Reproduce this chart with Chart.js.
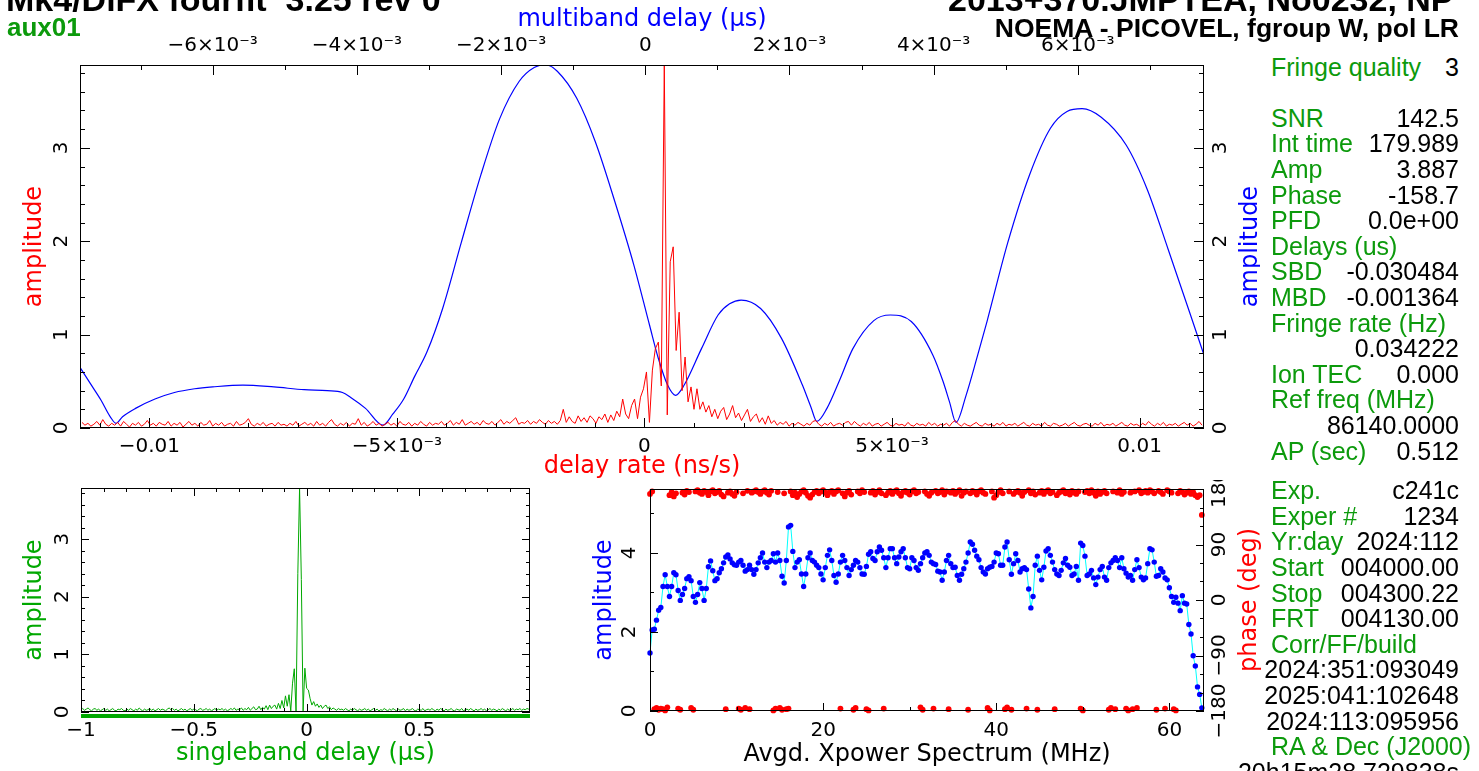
<!DOCTYPE html>
<html><head><meta charset="utf-8">
<script src="https://cdn.jsdelivr.net/npm/chart.js@4.4.1/dist/chart.umd.min.js"></script>
<style>
html,body{margin:0;padding:0;background:#fff;}
body{width:1479px;height:771px;overflow:hidden;position:relative;}
canvas{position:absolute;}
#c1{left:0;top:0;}
#c2{left:0;top:480px;}
#c3{left:580px;top:480px;}
.t{position:absolute;white-space:pre;font-family:"Liberation Sans",Arial,sans-serif;}
.b{font-weight:bold;}
.lab{left:1271px;color:#0c9a0c;font-size:25px;line-height:25.6px;}
.val{right:20px;color:#000;font-size:25px;line-height:25.6px;text-align:right;}
</style></head><body>
<canvas id="c1" width="1260" height="480"></canvas>
<canvas id="c2" width="560" height="291"></canvas>
<canvas id="c3" width="700" height="291"></canvas>
<script>
// ---------------- DATA ----------------
const AMP_MAX = 3.887;
const SPEC_AMP_MAX = 5.62;

// multiband delay function (top axis, us) - blue
const mbdDelay = [-0.00784,-0.00770,-0.00755,-0.00742,-0.00734,-0.00725,-0.00707,-0.00680,-0.00653,-0.00625,-0.00600,-0.00558,-0.00515,-0.00473,-0.00441,-0.00420,-0.00409,-0.00388,-0.00364,-0.00350,-0.00335,-0.00320,-0.00303,-0.00281,-0.00255,-0.00228,-0.00202,-0.00175,-0.00154,-0.00137,-0.00122,-0.00095,-0.00069,-0.00042,-0.00016,0.00006,0.00018,0.00031,0.00042,0.00054,0.00078,0.00101,0.00117,0.00133,0.00160,0.00189,0.00218,0.00230,0.00238,0.00252,0.00270,0.00288,0.00317,0.00340,0.00369,0.00399,0.00413,0.00422,0.00431,0.00445,0.00460,0.00474,0.00503,0.00533,0.00562,0.00585,0.00606,0.00632,0.00667,0.00696,0.00725,0.00755,0.00775];
const mbdAmp = [0.65,0.48,0.30,0.12,0.05,0.12,0.21,0.31,0.38,0.42,0.44,0.46,0.44,0.41,0.40,0.38,0.33,0.21,0.03,0.15,0.31,0.55,0.81,1.28,1.99,2.71,3.31,3.71,3.86,3.887,3.82,3.53,3.06,2.42,1.75,1.10,0.75,0.46,0.35,0.46,0.85,1.21,1.33,1.37,1.28,0.96,0.46,0.22,0.07,0.21,0.52,0.85,1.15,1.21,1.14,0.78,0.50,0.28,0.06,0.35,0.75,1.14,1.99,2.71,3.21,3.39,3.42,3.33,3.03,2.56,1.92,1.24,0.78];

// delay-rate spectrum (bottom axis, ns/s) - red, sampled on a regular grid
const rateStart = -0.01136, rateStep = 0.00006;
const rateAmp = [
0.06,0.03,0.05,0.02,0.04,0.07,0.03,0.09,0.04,0.02,
0.05,0.03,0.06,0.02,0.07,0.04,0.01,0.05,0.03,0.06,
0.02,0.04,0.08,0.03,0.05,0.02,0.06,0.04,0.03,0.07,
0.02,0.05,0.03,0.06,0.01,0.04,0.07,0.03,0.05,0.02,
0.06,0.03,0.04,0.08,0.02,0.05,0.03,0.06,0.02,0.04,
0.05,0.02,0.07,0.03,0.04,0.06,0.10,0.04,0.02,0.05,
0.03,0.06,0.02,0.04,0.05,0.02,0.06,0.03,0.04,0.02,
0.05,0.03,0.07,0.02,0.04,0.06,0.03,0.05,0.02,0.07,
0.03,0.05,0.02,0.06,0.09,0.04,0.02,0.05,0.03,0.06,
0.02,0.05,0.04,0.10,0.03,0.06,0.02,0.04,0.07,0.03,
0.05,0.02,0.04,0.06,0.03,0.05,0.02,0.07,0.04,0.03,
0.06,0.02,0.05,0.03,0.07,0.04,0.02,0.06,0.03,0.05,
0.04,0.07,0.03,0.05,0.08,0.03,0.06,0.04,0.09,0.03,
0.05,0.07,0.04,0.06,0.03,0.08,0.05,0.04,0.07,0.03,
0.06,0.09,0.04,0.07,0.05,0.08,0.11,0.04,0.06,0.05,
0.08,0.04,0.07,0.05,0.09,0.06,0.04,0.08,0.05,0.07,
0.04,0.08,0.20,0.06,0.12,0.07,0.05,0.13,0.07,0.11,
0.06,0.13,0.10,0.05,0.12,0.09,0.15,0.06,0.14,0.08,
0.18,0.12,0.31,0.15,0.10,0.24,0.31,0.10,0.33,0.42,
0.60,0.06,0.62,0.85,0.92,0.45,3.887,0.14,1.78,1.94,
0.83,1.24,0.40,0.76,0.28,0.44,0.20,0.42,0.20,0.28,
0.17,0.24,0.12,0.20,0.10,0.18,0.22,0.09,0.15,0.24,
0.11,0.16,0.08,0.14,0.20,0.07,0.12,0.15,0.06,0.11,
0.04,0.13,0.05,0.08,0.03,0.06,0.04,0.07,0.02,0.05,
0.03,0.06,0.04,0.02,0.05,0.03,0.07,0.08,0.04,0.02,
0.05,0.03,0.06,0.02,0.04,0.05,0.03,0.06,0.07,0.03,
0.07,0.04,0.02,0.05,0.03,0.06,0.02,0.04,0.05,0.02,
0.04,0.06,0.03,0.02,0.05,0.03,0.04,0.02,0.06,0.03,
0.02,0.05,0.03,0.04,0.02,0.06,0.03,0.05,0.02,0.04,
0.03,0.05,0.02,0.06,0.08,0.04,0.02,0.05,0.03,0.02,
0.04,0.06,0.03,0.02,0.05,0.03,0.04,0.02,0.05,0.03,
0.06,0.02,0.04,0.03,0.05,0.02,0.04,0.06,0.03,0.02,
0.05,0.03,0.04,0.02,0.06,0.03,0.02,0.05,0.04,0.02,
0.03,0.05,0.02,0.04,0.06,0.03,0.02,0.04,0.05,0.03,
0.02,0.05,0.03,0.06,0.02,0.04,0.03,0.05,0.02,0.04,
0.06,0.03,0.02,0.05,0.03,0.04,0.02,0.05,0.03,0.07,
0.04,0.02,0.05,0.03,0.06,0.02,0.04,0.03,0.05,0.02,
0.04,0.06,0.03,0.05,0.02,0.04,0.07,0.03];

// singleband delay function (us) - green, regular grid
const sbdStart = -1, sbdStep = 1/128;
const sbdAmp = [
0.04,0.06,0.03,0.05,0.07,0.04,0.02,0.05,0.06,0.03,
0.05,0.02,0.04,0.06,0.03,0.05,0.02,0.04,0.06,0.03,
0.02,0.05,0.04,0.06,0.03,0.02,0.05,0.03,0.06,0.04,
0.02,0.05,0.03,0.07,0.04,0.02,0.05,0.03,0.04,0.06,
0.03,0.05,0.02,0.04,0.06,0.03,0.05,0.04,0.02,0.05,
0.07,0.04,0.06,0.03,0.05,0.02,0.04,0.06,0.03,0.05,
0.02,0.04,0.06,0.03,0.05,0.04,0.02,0.05,0.06,0.03,
0.04,0.06,0.03,0.05,0.02,0.04,0.06,0.03,0.05,0.04,
0.06,0.03,0.05,0.02,0.04,0.06,0.04,0.07,0.03,0.05,
0.04,0.07,0.03,0.06,0.04,0.08,0.03,0.06,0.09,0.04,
0.05,0.10,0.04,0.08,0.05,0.11,0.04,0.12,0.06,0.10,
0.12,0.05,0.15,0.06,0.20,0.07,0.28,0.10,0.30,0.02,
0.50,0.75,0.00,2.40,3.887,2.30,0.02,0.76,0.41,0.38,
0.23,0.12,0.18,0.10,0.14,0.08,0.12,0.06,0.10,0.12,
0.06,0.09,0.04,0.07,0.05,0.03,0.06,0.04,0.05,0.03,
0.06,0.04,0.02,0.05,0.03,0.06,0.04,0.02,0.05,0.03,
0.04,0.06,0.03,0.05,0.02,0.04,0.06,0.03,0.05,0.02,
0.04,0.03,0.06,0.04,0.02,0.05,0.03,0.06,0.04,0.02,
0.05,0.03,0.04,0.06,0.02,0.05,0.03,0.04,0.06,0.03,
0.02,0.05,0.04,0.03,0.06,0.02,0.04,0.05,0.03,0.06,
0.04,0.02,0.05,0.03,0.06,0.04,0.02,0.05,0.03,0.04,
0.06,0.03,0.02,0.05,0.04,0.03,0.06,0.02,0.04,0.05,
0.03,0.06,0.04,0.02,0.05,0.03,0.04,0.06,0.03,0.05,
0.02,0.04,0.06,0.03,0.05,0.04,0.02,0.05,0.03,0.06,
0.04,0.02,0.05,0.03,0.04,0.06,0.03,0.05,0.04,0.06,
0.03,0.05,0.04,0.06,0.05,0.08];
const sbdWindow = [-1, 0.99];

// averaged cross-power spectrum, 0.25 MHz channels
const specStep = 0.25;
const specAmp = [
1.47,2.05,2.07,2.30,2.55,2.62,3.15,3.45,3.15,2.90,
3.15,3.50,3.45,3.05,2.80,2.95,3.10,3.35,3.40,3.30,
2.90,2.75,2.95,3.25,3.10,2.80,3.10,3.65,3.80,3.55,
3.30,3.35,3.50,3.60,3.75,3.90,3.95,3.85,3.75,3.70,
3.69,3.77,3.81,3.69,3.54,3.58,3.69,3.58,3.46,3.58,
3.75,3.88,4.00,3.77,3.63,3.77,3.81,3.98,3.77,
4.00,3.81,3.41,3.24,3.81,4.66,4.70,4.04,3.63,3.77,
3.83,3.47,3.15,3.47,3.88,4.00,3.81,3.77,3.69,3.63,
3.47,3.32,3.63,3.94,4.08,3.81,3.43,3.26,3.47,
3.77,3.94,3.81,3.63,3.43,3.58,3.69,3.81,3.77,3.63,
3.47,3.46,3.66,3.97,4.03,3.86,3.81,4.03,4.15,4.07,
3.88,3.63,3.88,4.11,4.11,3.88,3.73,3.90,4.03,
4.11,3.88,3.63,3.60,3.88,3.81,3.63,3.56,3.73,3.88,
4.00,4.03,3.94,3.77,3.73,3.71,3.54,3.52,3.31,3.52,
3.81,3.94,3.73,3.63,3.64,3.43,3.31,3.46,3.60,3.77,
4.00,4.28,4.22,4.07,3.92,3.83,3.63,3.52,3.47,3.60,
3.64,3.66,3.77,4.00,3.98,3.69,3.69,4.15,4.28,
3.83,3.46,3.73,3.98,3.81,3.52,3.60,3.63,3.58,3.09,
2.61,2.90,3.69,3.92,3.56,3.32,3.64,4.05,4.11,3.94,
3.77,3.58,3.47,3.43,3.56,3.75,3.86,3.69,3.64,3.43,
3.47,3.66,3.31,4.25,4.19,3.92,3.43,3.47,3.56,
3.37,3.20,3.39,3.58,3.66,3.39,3.31,3.63,3.75,3.81,
3.88,3.81,3.63,3.88,3.60,3.49,3.39,3.43,3.31,3.58,
3.83,3.63,3.39,3.32,3.37,3.73,4.11,4.08,3.77,3.41,
3.43,3.60,3.52,3.37,3.32,3.12,2.90,2.75,2.88,2.73,
2.54,2.92,2.73,2.71,2.19,1.95,1.40,1.14,0.61,
0.42,0.08];
const specPhase = [
172,176,-177,-175,-178,-176,-177,-179,-174,170,
175,168,173,-176,-178,174,171,177,175,-175,
-178,176,178,174,172,177,175,170,176,178,
173,175,177,171,168,-177,174,176,172,169,
175,-176,-178,173,-175,177,-177,174,176,178,
175,172,176,178,174,171,177,-179,-176,175,
-175,-178,173,-177,-176,176,170,174,167,172,
176,178,174,169,166,171,175,177,173,176,
178,174,170,175,177,172,176,178,-176,173,
168,174,177,171,-178,-175,176,173,178,175,
-177,-179,174,177,171,175,178,173,-176,170,
174,177,172,176,178,173,169,175,177,174,
171,176,178,173,175,-174,-178,176,172,169,
174,-176,177,173,175,178,171,176,-177,174,
177,172,175,178,169,174,176,-178,173,177,
175,171,176,178,174,172,-175,-179,176,166,
170,175,178,173,-177,-174,176,-178,172,175,
177,174,169,175,-176,178,173,176,171,-178,
174,177,172,176,178,173,175,-177,170,174,
176,178,173,175,171,177,174,172,176,-176,
-179,175,177,173,178,174,169,176,172,175,
177,173,-178,-175,176,-177,174,178,172,175,
-176,-179,174,-177,176,-175,178,173,175,177,
174,178,176,173,-178,177,175,172,-176,178,
176,174,-177,-179,173,177,175,171,174,176,
172,175,170,167,170,138];

// tick values and labels
const rateTicks = [-0.01,-0.005,0,0.005,0.01];
const rateTickLabels = ['\u22120.01','\u22125\u00d710\u207b\u00b3','0','5\u00d710\u207b\u00b3','0.01'];
const mbdTicks = [-0.006,-0.004,-0.002,0,0.002,0.004,0.006];
const mbdTickLabels = ['\u22126\u00d710\u207b\u00b3','\u22124\u00d710\u207b\u00b3','\u22122\u00d710\u207b\u00b3','0','2\u00d710\u207b\u00b3','4\u00d710\u207b\u00b3','6\u00d710\u207b\u00b3'];
const ampTicks = [0,1,2,3];
const ampTickLabels = ['0','1','2','3'];
const sbdTicks = [-1,-0.5,0,0.5];
const sbdTickLabels = ['\u22121','\u22120.5','0','0.5'];
const specTicks = [0,20,40,60];
const specTickLabels = ['0','20','40','60'];
const specAmpTicks = [0,2,4];
const specAmpTickLabels = ['0','2','4'];
const phaseTicks = [-180,-90,0,90,180];
const phaseTickLabels = ['\u2212180','\u221290','0','90','180'];

// text panel
const panelRows = [
 ['Fringe quality','3'],['SNR','142.5'],['Int time','179.989'],['Amp','3.887'],['Phase','-158.7'],
 ['PFD','0.0e+00'],['Delays (us)',''],['SBD','-0.030484'],['MBD','-0.001364'],['Fringe rate (Hz)',''],
 ['','0.034222'],['Ion TEC','0.000'],['Ref freq (MHz)',''],['','86140.0000'],['AP (sec)','0.512'],
 ['Exp.','c241c'],['Exper #','1234'],['Yr:day','2024:112'],['Start','004000.00'],['Stop','004300.22'],
 ['FRT','004130.00'],['Corr/FF/build',''],['','2024:351:093049'],['','2025:041:102648'],['','2024:113:095956'],
 ['RA & Dec (J2000)',''],['','20h15m28.729838s']
];
const titleLeft = 'Mk4/DiFX fourfit  3.25 rev 0';
const titleRight1 = '2013+370.JMPTEA, No0232, NP';
const titleRight2 = 'NOEMA - PICOVEL, fgroup W, pol LR';
const stationTag = 'aux01';

// ---------------- RENDERING ----------------
const FONT = '"DejaVu Sans ExtraLight", "DejaVu Sans", sans-serif';
const RED = '#ff0000', BLUE = '#0000ff', GREEN = '#00a800', CYAN = '#00ffff', BLACK = '#000000';

function fixedSize(px){ return s => { if (s.isHorizontal()) s.height = px; else s.width = px; }; }
function setTicks(vals){ return s => { s.ticks = vals.map(v => ({value: v})); }; }

function xScale(pos, min, max, ticks, labels, size, tickPad, title, titleColor, titlePad){
  return {
    type:'linear', axis:'x', position:pos, min, max, bounds:'data',
    grid:{display:false}, border:{display:false},
    afterBuildTicks:setTicks(ticks), afterFit:fixedSize(size),
    ticks:{autoSkip:false, maxRotation:0, minRotation:0, padding:tickPad, color:BLACK,
           font:{family:FONT, size:20}, callback:(v,i)=>labels[i]},
    title:{display:!!title, text:title, color:titleColor, font:{family:FONT, size:24, lineHeight:1},
           padding: pos==='top' ? {top:titlePad} : {bottom:titlePad}}
  };
}
function yScale(pos, min, max, ticks, size, title, titleColor, titlePad){
  return {
    type:'linear', axis:'y', position:pos, min, max, bounds:'data',
    grid:{display:false}, border:{display:false},
    afterBuildTicks:setTicks(ticks), afterFit:fixedSize(size),
    ticks:{display:false},
    title:{display:!!title, text:title||'', color:titleColor, font:{family:FONT, size:24, lineHeight:1},
           padding:{top:titlePad||0}}
  };
}

function pgPlugin(conf){
  return {
    id:'pgaxes',
    afterDatasetsDraw(chart){
      const ctx = chart.ctx, a = chart.chartArea;
      ctx.save();
      if (conf.bar){
        const sc = chart.scales[conf.bar.scale];
        ctx.strokeStyle = conf.bar.color; ctx.lineWidth = conf.bar.width;
        ctx.beginPath();
        const y = a.bottom + conf.bar.dy;
        ctx.moveTo(sc.getPixelForValue(conf.bar.from), y);
        ctx.lineTo(sc.getPixelForValue(conf.bar.to), y);
        ctx.stroke();
      }
      ctx.strokeStyle = BLACK; ctx.lineWidth = 1;
      ctx.strokeRect(a.left + 0.5, a.top + 0.5, a.right - a.left - 1, a.bottom - a.top - 1);
      ctx.beginPath();
      for (const s of conf.sides){
        const sc = chart.scales[s.scale];
        const sets = [[sc.ticks.map(t => t.value), s.majorLen]];
        if (s.minor){
          const m = [];
          const k0 = Math.ceil(sc.min / s.minor - 1e-6);
          for (let k = k0; k * s.minor <= sc.max + 1e-9; k++) m.push(k * s.minor);
          sets.push([m, s.minorLen]);
        }
        for (const [vals, len] of sets){
          for (const v of vals){
            const p = Math.round(sc.getPixelForValue(v)) + 0.5;
            if (s.side === 'bottom'){ ctx.moveTo(p, a.bottom); ctx.lineTo(p, a.bottom - len); }
            else if (s.side === 'top'){ ctx.moveTo(p, a.top); ctx.lineTo(p, a.top + len); }
            else if (s.side === 'left'){ ctx.moveTo(a.left, p); ctx.lineTo(a.left + len, p); }
            else { ctx.moveTo(a.right, p); ctx.lineTo(a.right - len, p); }
          }
        }
      }
      ctx.stroke();
      ctx.fillStyle = BLACK; ctx.textAlign = 'center'; ctx.textBaseline = 'middle';
      ctx.font = '20px ' + FONT;
      for (const L of (conf.yLabels || [])){
        const sc = chart.scales[L.scale];
        sc.ticks.forEach((t, i) => {
          const y = sc.getPixelForValue(t.value);
          ctx.save(); ctx.translate(L.x, y); ctx.rotate(-Math.PI/2);
          ctx.fillText(L.labels[i], 0, 0); ctx.restore();
        });
      }
      ctx.font = '24px ' + FONT;
      for (const T of (conf.titles || [])){
        ctx.fillStyle = T.color;
        ctx.save(); ctx.translate(T.x, (a.top + a.bottom) / 2); ctx.rotate(-Math.PI/2);
        ctx.fillText(T.text, 0, 0); ctx.restore();
      }
      ctx.restore();
    }
  };
}

const common = {
  responsive:false, animation:false, events:[], devicePixelRatio:1,
  plugins:{legend:{display:false}, tooltip:{enabled:false}},
  elements:{point:{radius:0}}
};

// ---- main plot
const rateData = rateAmp.map((v, i) => ({x: rateStart + i * rateStep, y: v}));
const mbdData = mbdDelay.map((d, i) => ({x: d, y: mbdAmp[i]}));
new Chart(document.getElementById('c1'), {
  type:'line',
  data:{datasets:[
    {data:rateData, xAxisID:'rate', yAxisID:'amp', borderColor:RED, borderWidth:1, pointRadius:0, tension:0},
    {data:mbdData, xAxisID:'mbd', yAxisID:'amp', borderColor:BLUE, borderWidth:1.2, pointRadius:0, cubicInterpolationMode:'monotone'}
  ]},
  options:Object.assign({}, common, {
    layout:{padding:0},
    scales:{
      rate: xScale('bottom', -0.0114, 0.0113, rateTicks, rateTickLabels, 52, -1, 'delay rate (ns/s)', RED, 1),
      mbd: xScale('top', -0.00784, 0.00775, mbdTicks, mbdTickLabels, 65, -1, 'multiband delay (\u03bcs)', BLUE, 8),
      amp: yScale('left', 0, AMP_MAX, ampTicks, 80, 'amplitude', RED, 23),
      amp2: yScale('right', 0, AMP_MAX, ampTicks, 56, '', BLUE, 0)
    }
  }),
  plugins:[pgPlugin({
    sides:[
      {scale:'rate', side:'bottom', majorLen:10, minor:0.001, minorLen:5},
      {scale:'mbd', side:'top', majorLen:10, minor:0.001, minorLen:5},
      {scale:'amp', side:'left', majorLen:10, minor:0.2, minorLen:5},
      {scale:'amp2', side:'right', majorLen:10, minor:0.2, minorLen:5}
    ],
    yLabels:[{scale:'amp', x:62, labels:ampTickLabels},{scale:'amp2', x:1221, labels:ampTickLabels}],
    titles:[{text:'amplitude', x:1251, color:BLUE}]
  })]
});

// ---- singleband delay plot
const sbdData = sbdAmp.map((v, i) => ({x: sbdStart + i * sbdStep, y: v}));
new Chart(document.getElementById('c2'), {
  type:'line',
  data:{datasets:[
    {data:sbdData, xAxisID:'x', yAxisID:'y', borderColor:GREEN, borderWidth:1, pointRadius:0, tension:0}
  ]},
  options:Object.assign({}, common, {
    layout:{padding:{top:8, right:30, left:0, bottom:0}},
    scales:{
      x: xScale('bottom', -1, 0.99, sbdTicks, sbdTickLabels, 59, -1, 'singleband delay (\u03bcs)', GREEN, 5),
      y: yScale('left', 0, AMP_MAX, ampTicks, 81, 'amplitude', GREEN, 23)
    }
  }),
  plugins:[pgPlugin({
    sides:[
      {scale:'x', side:'bottom', majorLen:8, minor:0.1, minorLen:4},
      {scale:'x', side:'top', majorLen:8, minor:0.1, minorLen:4},
      {scale:'y', side:'left', majorLen:8, minor:0.2, minorLen:4},
      {scale:'y', side:'right', majorLen:8, minor:0.2, minorLen:4}
    ],
    yLabels:[{scale:'y', x:63, labels:ampTickLabels}],
    bar:{scale:'x', from:sbdWindow[0], to:sbdWindow[1], dy:4, width:4, color:GREEN}
  })]
});

// ---- cross-power spectrum plot
const specAmpData = specAmp.map((v, i) => ({x: i * specStep, y: v}));
const specPhaseData = specPhase.map((v, i) => ({x: i * specStep, y: v}));
new Chart(document.getElementById('c3'), {
  type:'line',
  data:{datasets:[
    {data:specPhaseData, xAxisID:'x', yAxisID:'ph', showLine:false, pointRadius:2.9, pointBorderWidth:0,
     pointBackgroundColor:RED, borderColor:RED, clip:4},
    {data:specAmpData, xAxisID:'x', yAxisID:'amp', borderColor:CYAN, borderWidth:1, tension:0,
     pointRadius:2.7, pointBorderWidth:0, pointBackgroundColor:BLUE, clip:4}
  ]},
  options:Object.assign({}, common, {
    layout:{padding:{top:9, right:0, left:0, bottom:0}},
    scales:{
      x: xScale('bottom', 0, 64, specTicks, specTickLabels, 60, 0, 'Avgd. Xpower Spectrum (MHz)', BLACK, 4),
      amp: yScale('left', 0, SPEC_AMP_MAX, specAmpTicks, 70, 'amplitude', BLUE, 13),
      ph: yScale('right', -180, 180, phaseTicks, 76, '', RED, 0)
    }
  }),
  plugins:[pgPlugin({
    sides:[
      {scale:'x', side:'bottom', majorLen:8, minor:10, minorLen:4},
      {scale:'x', side:'top', majorLen:8, minor:10, minorLen:4},
      {scale:'amp', side:'left', majorLen:8, minor:1, minorLen:4},
      {scale:'ph', side:'right', majorLen:8, minor:30, minorLen:4}
    ],
    yLabels:[{scale:'amp', x:50, labels:specAmpTickLabels},{scale:'ph', x:640, labels:phaseTickLabels}],
    titles:[{text:'phase (deg)', x:670, color:RED}]
  })]
});

// ---- header and text panel
function addText(cls, text, style){
  const d = document.createElement('div');
  d.className = 't ' + cls; d.textContent = text;
  Object.assign(d.style, style);
  document.body.appendChild(d);
}
addText('b', titleLeft, {left:'6px', top:'-18px', fontSize:'34px', lineHeight:'34px', color:'#000'});
addText('b', titleRight1, {left:'948px', top:'-18px', fontSize:'34px', lineHeight:'34px', color:'#000'});
addText('b', titleRight2, {right:'20px', top:'15px', fontSize:'26.5px', lineHeight:'26.5px', color:'#000'});
addText('b', stationTag, {left:'7px', top:'14px', fontSize:'26px', lineHeight:'26px', color:'#0c9a0c'});
panelRows.forEach((r, k) => {
  const slot = k === 0 ? 0 : (k <= 14 ? k + 1 : k + 1.55);
  const top = (67 + slot * 25.6 - 12.5) + 'px';
  if (r[0]) addText('lab', r[0], {top});
  if (r[1]) addText('val', r[1], {top});
});
</script>
</body></html>
